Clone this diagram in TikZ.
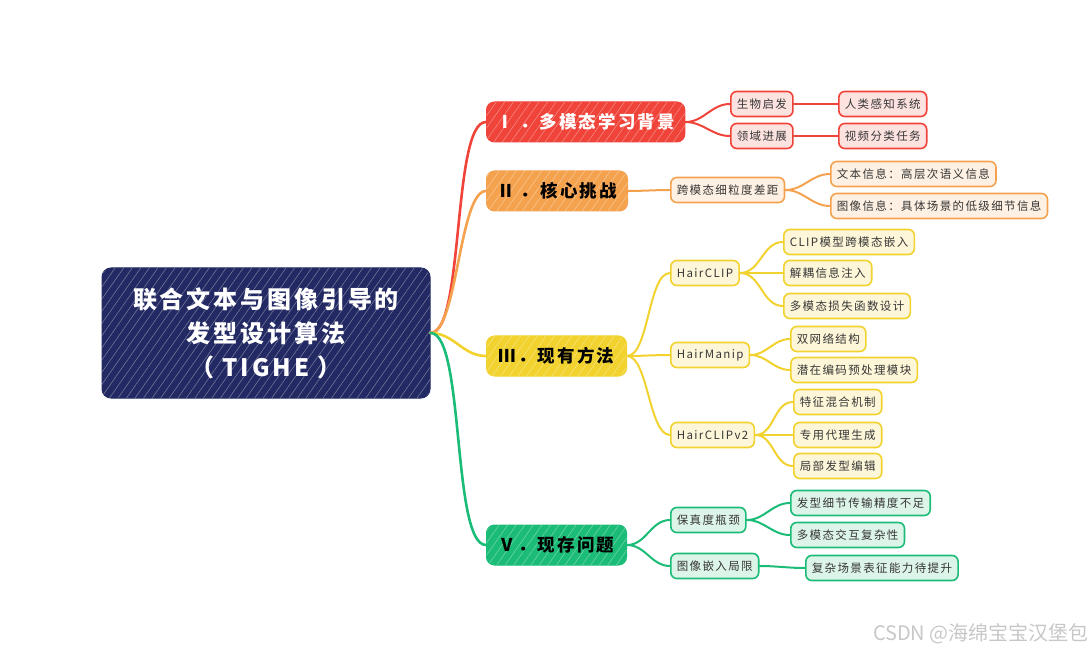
\documentclass[tikz,border=0pt]{standalone}
\usepackage{fontspec}
\setmainfont{Noto Sans CJK SC}
\newfontfamily\mapfont[LetterSpace=12]{Noto Sans CJK SC}
\usetikzlibrary{patterns.meta}

\definecolor{rootblue}{HTML}{232A63}
\definecolor{redD}{HTML}{F0443A}
\definecolor{redL}{HTML}{FDE3E0}
\definecolor{orgD}{HTML}{F5A24F}
\definecolor{orgL}{HTML}{FEF1E3}
\definecolor{yelD}{HTML}{F2D22E}
\definecolor{yelL}{HTML}{FDF6D8}
\definecolor{grnD}{HTML}{1BBC78}
\definecolor{grnL}{HTML}{DDF4E9}
\definecolor{ink}{HTML}{363636}

\begin{document}
\begin{tikzpicture}[x=1pt, y=-1pt,
  font=\mapfont\fontsize{11.5}{13}\selectfont,
  hatch/.style={postaction={pattern={Lines[angle=55,distance=7pt,line width=0.5pt]}, pattern color=#1}},
  root/.style={draw=rootblue, fill=rootblue, rounded corners=9pt, line width=1pt, text=white,
    align=center, minimum width=328pt, minimum height=130pt, inner sep=0pt,
    font=\mapfont\bfseries\fontsize{24}{34}\selectfont, hatch=white!40!rootblue},
  topic/.style={draw=#1D, fill=#1D, rounded corners=8pt, line width=1pt, anchor=west,
    minimum height=40pt, inner xsep=10pt, font=\mapfont\bfseries\fontsize{17.5}{19}\selectfont,
    hatch=white!40!#1D},
  leaf/.style={draw=#1D, fill=#1L, rounded corners=6pt, line width=1.6pt, anchor=west,
    minimum height=25pt, inner xsep=6pt, inner ysep=0pt, text=ink},
  br/.style={draw=#1D, line width=2.6pt, line cap=round},
  sub/.style={draw=#1D, line width=2pt, line cap=round}]

  \useasboundingbox (0,0) rectangle (1090,652);

  % centre
  \node[root] (root) at (266,333) {联合文本与图像引导的\\发型设计算法\\（ TIGHE ）};

  % main topics
  \node[topic=red, text=white] (bg) at (486,122) {Ⅰ ．多模态学习背景};
  \node[topic=org, text=black, minimum width=141pt] (chal) at (486,191) {Ⅱ ．核心挑战};
  \node[topic=yel, text=black, minimum width=140pt] (meth) at (486,356) {Ⅲ．现有方法};
  \node[topic=grn, text=black, minimum width=140pt] (prob) at (486,545) {Ⅴ．现存问题};

  % I
  \node[leaf=red] (bio) at (730,104) {生物启发};
  \node[leaf=red] (field) at (730,136) {领域进展};
  \node[leaf=red] (human) at (838,104) {人类感知系统};
  \node[leaf=red] (video) at (838,136) {视频分类任务};

  % II
  \node[leaf=org] (gap) at (670,190) {跨模态细粒度差距};
  \node[leaf=org] (txt) at (830,174) {文本信息：高层次语义信息};
  \node[leaf=org] (img) at (830,206) {图像信息：具体场景的低级细节信息};

  % III
  \node[leaf=yel] (hclip) at (670,273) {HairCLIP};
  \node[leaf=yel] (hmanip) at (670,355) {HairManip};
  \node[leaf=yel] (hclip2) at (670,435) {HairCLIPv2};
  \node[leaf=yel] (clipemb) at (783,242) {CLIP模型跨模态嵌入};
  \node[leaf=yel] (decouple) at (783,273) {解耦信息注入};
  \node[leaf=yel] (mmloss) at (783,306) {多模态损失函数设计};
  \node[leaf=yel] (dualnet) at (790,339) {双网络结构};
  \node[leaf=yel] (latent) at (790,370) {潜在编码预处理模块};
  \node[leaf=yel] (featmix) at (793,402) {特征混合机制};
  \node[leaf=yel] (proxy) at (793,435) {专用代理生成};
  \node[leaf=yel] (localedit) at (793,466) {局部发型编辑};

  % V
  \node[leaf=grn] (fidel) at (670,520) {保真度瓶颈};
  \node[leaf=grn] (embed) at (670,566) {图像嵌入局限};
  \node[leaf=grn] (hairdet) at (790,503) {发型细节传输精度不足};
  \node[leaf=grn] (mminter) at (790,535) {多模态交互复杂性};
  \node[leaf=grn] (complex) at (805,568) {复杂场景表征能力待提升};

  \node[text=black!22, font=\fontsize{20}{22}\selectfont, anchor=east, inner sep=0pt] (wm) at (1089,634) {CSDN @海绵宝宝汉堡包};

  % branches
  \draw[br=red] (root.east) to[out=0, in=180, looseness=0.4] (bg.west);
  \draw[br=org] (root.east) to[out=0, in=180, looseness=0.45] (chal.west);
  \draw[br=yel] (root.east) to[out=0, in=180] (meth.west);
  \draw[br=grn] (root.east) to[out=0, in=180, looseness=0.4] (prob.west);

  \draw[sub=red] (bg.east) to[out=0, in=180] (bio.west);
  \draw[sub=red] (bg.east) to[out=0, in=180] (field.west);
  \draw[sub=red] (bio.east) -- (human.west);
  \draw[sub=red] (field.east) -- (video.west);

  \draw[sub=org] (chal.east) to[out=0, in=180] (gap.west);
  \draw[sub=org] (gap.east) to[out=0, in=180] (txt.west);
  \draw[sub=org] (gap.east) to[out=0, in=180] (img.west);

  \draw[sub=yel] (meth.east) to[out=0, in=180, looseness=0.6] (hclip.west);
  \draw[sub=yel] (meth.east) to[out=0, in=180] (hmanip.west);
  \draw[sub=yel] (meth.east) to[out=0, in=180, looseness=0.6] (hclip2.west);
  \draw[sub=yel] (hclip.east) to[out=0, in=180] (clipemb.west);
  \draw[sub=yel] (hclip.east) to[out=0, in=180] (decouple.west);
  \draw[sub=yel] (hclip.east) to[out=0, in=180] (mmloss.west);
  \draw[sub=yel] (hmanip.east) to[out=0, in=180] (dualnet.west);
  \draw[sub=yel] (hmanip.east) to[out=0, in=180] (latent.west);
  \draw[sub=yel] (hclip2.east) to[out=0, in=180] (featmix.west);
  \draw[sub=yel] (hclip2.east) to[out=0, in=180] (proxy.west);
  \draw[sub=yel] (hclip2.east) to[out=0, in=180] (localedit.west);

  \draw[sub=grn] (prob.east) to[out=0, in=180] (fidel.west);
  \draw[sub=grn] (prob.east) to[out=0, in=180] (embed.west);
  \draw[sub=grn] (fidel.east) to[out=0, in=180] (hairdet.west);
  \draw[sub=grn] (fidel.east) to[out=0, in=180] (mminter.west);
  \draw[sub=grn] (embed.east) to[out=0, in=180] (complex.west);
\end{tikzpicture}
\end{document}
